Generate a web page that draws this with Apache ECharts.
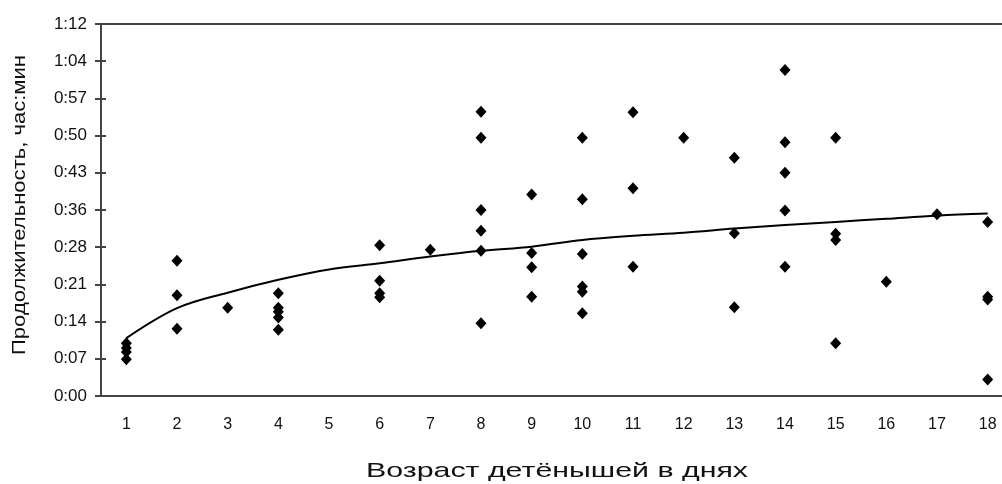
<!DOCTYPE html>
<html>
<head>
<meta charset="utf-8">
<script src="https://cdn.jsdelivr.net/npm/echarts@6/dist/echarts.min.js"></script>
<style>html,body{margin:0;padding:0;background:#fff}#c{width:1002px;height:484px}</style>
</head>
<body>
<div id="c"></div>
<script>
var days = ['1','2','3','4','5','6','7','8','9','10','11','12','13','14','15','16','17','18'];
var yTickLabels = ['0:00','0:07','0:14','0:21','0:28','0:36','0:43','0:50','0:57','1:04','1:12'];
var xTitle = 'Возраст детёнышей в днях';
var yTitle = 'Продолжительность, час:мин';
// observed durations (minutes) with their day
var pointDays = [1,1,1,1, 2,2,2, 3, 4,4,4,4,4, 6,6,6,6, 7, 8,8,8,8,8,8, 9,9,9,9, 10,10,10,10,10,10, 11,11,11, 12, 13,13,13, 14,14,14,14,14, 15,15,15,15, 16, 17, 18,18,18,18];
var pointMinutes = [10.2,9.3,8.5,7.1, 26.2,19.5,13.0, 17.1, 19.9,17.1,16.3,15.2,12.8, 29.2,22.3,19.9,19.1, 28.3, 55.0,50.0,36.0,32.0,28.1,14.1, 39.0,27.7,24.9,19.2, 50.0,38.1,27.5,21.2,20.2,16.0, 54.9,40.2,25.0, 50.0, 46.1,31.5,17.2, 63.1,49.1,43.2,35.9,25.0, 50.0,31.4,30.2,10.2, 22.1, 35.2, 33.7,19.2,18.7,3.2];
// trend line read at each day (minutes)
var trendMinutes = [11.2,17.0,20.0,22.5,24.5,25.7,27.0,28.1,28.9,30.2,31.0,31.6,32.4,33.1,33.7,34.3,34.9,35.3];

var yMax = 72, yStep = 7.2;
var scatterData = pointDays.map(function(d, i){ return [String(d), pointMinutes[i]]; });

var fontFam = '"Liberation Sans", Arial, sans-serif';
function textWidth(t, px){
  var c = document.createElement('canvas').getContext('2d');
  c.font = px + 'px ' + fontFam;
  return c.measureText(t).width;
}
var xTitlePx = 21, yTitlePx = 18;
var xTitleScale = 382 / textWidth(xTitle, xTitlePx);
var yTitleScale = 300 / textWidth(yTitle, yTitlePx);

var chart = echarts.init(document.getElementById('c'), null, {renderer:'canvas'});
chart.setOption({
  animation: false,
  backgroundColor: '#fff',
  grid: {left: 101, width: 912, top: 24, bottom: 88, outerBoundsMode: 'none', containLabel: false,
    show: true, borderColor: '#444', borderWidth: 2, backgroundColor: 'transparent'},
  xAxis: {
    type: 'category', data: days, boundaryGap: true,
    axisLine: {show: true, lineStyle: {color: '#444', width: 2}},
    axisTick: {show: false},
    axisLabel: {color: '#111', fontFamily: fontFam, fontSize: 16, margin: 21},
    splitLine: {show: false}
  },
  yAxis: [{
    type: 'value', min: 0, max: yMax, interval: yStep,
    axisLine: {show: true, lineStyle: {color: '#444', width: 2}},
    axisTick: {show: true, length: 6, lineStyle: {color: '#444', width: 2}},
    axisLabel: {color: '#111', fontFamily: fontFam, fontSize: 17, margin: 14,
      formatter: function(v){ return yTickLabels[Math.round(v / yStep)]; }},
    splitLine: {show: false}
  }, {
    type: 'value', min: 0, max: yMax, interval: yStep, position: 'left',
    axisLine: {show: false},
    axisTick: {show: true, inside: true, length: 5, lineStyle: {color: '#444', width: 2}},
    axisLabel: {show: false}, splitLine: {show: false}
  }],
  graphic: [{
    type: 'text', x: 557, y: 471, scaleX: xTitleScale, scaleY: 1,
    style: {text: xTitle, font: xTitlePx + 'px ' + fontFam, fill: '#111', align: 'center', verticalAlign: 'middle'}
  }, {
    type: 'text', x: 20, y: 205, rotation: Math.PI / 2, scaleX: yTitleScale, scaleY: 1,
    style: {text: yTitle, font: yTitlePx + 'px ' + fontFam, fill: '#111', align: 'center', verticalAlign: 'middle'}
  }],
  series: [{
    type: 'line', data: trendMinutes, smooth: 0.35, symbol: 'none',
    lineStyle: {color: '#000', width: 2}, z: 2
  }, {
    type: 'scatter', data: scatterData, symbol: 'diamond', symbolSize: [11, 12],
    itemStyle: {color: '#000', opacity: 1}, z: 3
  }]
});
</script>
</body>
</html>
